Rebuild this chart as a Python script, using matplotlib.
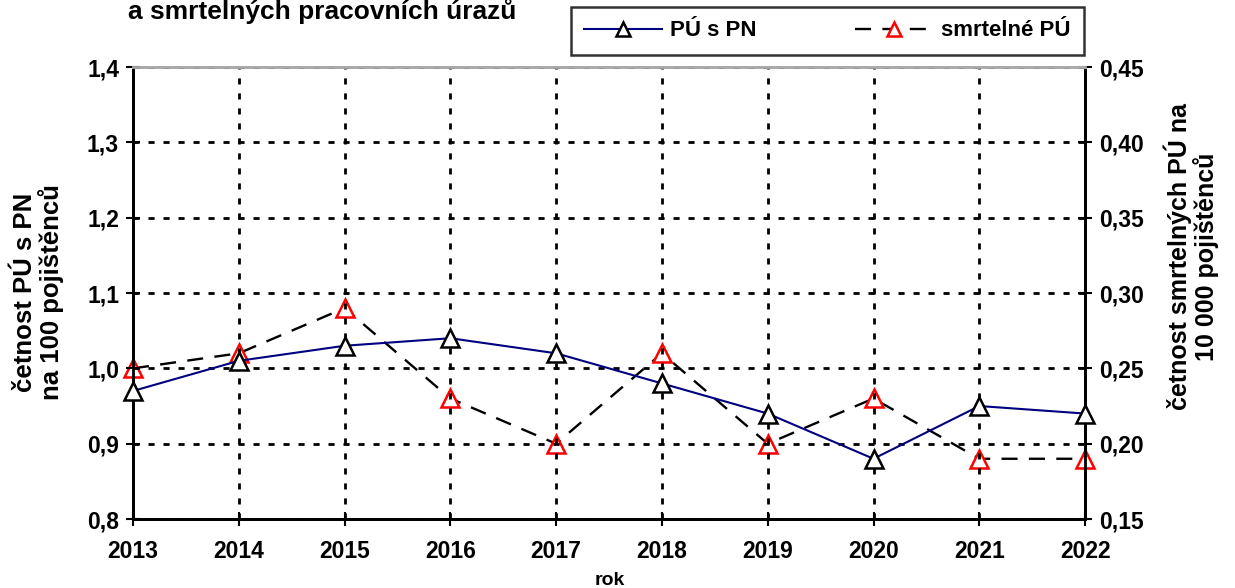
import matplotlib.pyplot as plt
from matplotlib.ticker import FuncFormatter

plt.rcParams['font.family'] = ['Liberation Sans', 'DejaVu Sans']
plt.rcParams['font.weight'] = 'bold'

years = [2013, 2014, 2015, 2016, 2017, 2018, 2019, 2020, 2021, 2022]
pu_s_pn = [0.97, 1.01, 1.03, 1.04, 1.02, 0.98, 0.94, 0.88, 0.95, 0.94]
smrtelne_pu = [0.25, 0.26, 0.29, 0.23, 0.20, 0.26, 0.20, 0.23, 0.19, 0.19]
left_ticks = [0.8, 0.9, 1.0, 1.1, 1.2, 1.3, 1.4]
right_ticks = [0.15, 0.20, 0.25, 0.30, 0.35, 0.40, 0.45]

fig = plt.figure(figsize=(12.35, 5.88), dpi=100, facecolor='white')
ax1 = fig.add_axes([0.1077, 0.1173, 0.7709, 0.7687])
ax2 = ax1.twinx()

# PÚ s PN - levá osa
l1, = ax1.plot(years, pu_s_pn, color='#000080', lw=1.5, marker='^', ms=13.5,
               mfc='white', mec='black', mew=1.8, clip_on=False, zorder=5,
               label='PÚ s PN')
# smrtelné PÚ - pravá osa
l2, = ax2.plot(years, smrtelne_pu, color='black', lw=1.7, ls=(0, (6.8, 4.8)),
               marker='^', ms=13.5, mfc='white', mec='red', mew=1.8,
               clip_on=False, zorder=5, label='smrtelné PÚ')

ax1.set_xlim(2013, 2022)
ax1.set_ylim(0.8, 1.4)
ax2.set_ylim(0.15, 0.45)
ax1.set_xticks(years)
ax1.set_yticks(left_ticks)
ax2.set_yticks(right_ticks)
ax1.yaxis.set_major_formatter(FuncFormatter(lambda v, p: f'{v:.1f}'.replace('.', ',')))
ax2.yaxis.set_major_formatter(FuncFormatter(lambda v, p: f'{v:.2f}'.replace('.', ',')))

ax1.grid(True, color='black', ls=(0, (2.2, 3.2)), lw=2)
for ax in (ax1, ax2):
    ax.tick_params(direction='inout', length=10, width=1.5, labelsize=16.5)
    for s in ax.spines.values():
        s.set_linewidth(2)
    ax.spines['top'].set_color('#aaaaaa')
ax1.tick_params(axis='x', pad=10)
ax1.tick_params(axis='y', pad=5)
ax2.tick_params(axis='y', pad=5)
ax1.set_zorder(ax2.get_zorder() + 1)
ax1.patch.set_visible(False)

# popisky os
fig.text(0.0308, 0.503, 'četnost PÚ s PN\nna 100 pojištěnců', rotation=90,
         ha='center', va='center', fontsize=18.5, fontweight='bold',
         linespacing=1.05, multialignment='center')
fig.text(0.9644, 0.563, 'četnost smrtelných PÚ na\n10 000 pojištěnců', rotation=90,
         ha='center', va='center', fontsize=18, fontweight='bold',
         linespacing=1.05, multialignment='center')
fig.text(0.494, 0.0136, 'rok', ha='center', va='center', fontsize=14, fontweight='bold')

# horní řádek nadpisu je v originále oříznutý
fig.text(0.2607, 0.968, 'a smrtelných pracovních úrazů', ha='center', va='baseline',
         fontsize=19, fontweight='bold')

leg = fig.legend(handles=[l1, l2], loc='upper left', bbox_to_anchor=(0.4623, 0.988),
                 ncol=2, frameon=True, fancybox=False, edgecolor='black',
                 fontsize=16, handlelength=3.5, handletextpad=0.35,
                 columnspacing=4.45, borderpad=0.6, borderaxespad=0,
                 markerscale=0.75)
leg.get_frame().set_linewidth(1.8)

fig.savefig('out.png', dpi=100, facecolor='white')
